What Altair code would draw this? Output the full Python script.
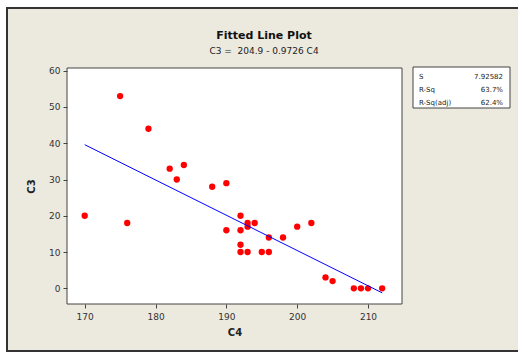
import altair as alt
import pandas as pd

# Data
c4 = [170, 175, 176, 179, 182, 183, 184, 188, 190, 190, 192, 192, 192, 192, 193,
      193, 193, 194, 195, 196, 196, 198, 200, 202, 204, 205, 208, 209, 210, 212]
c3 = [20, 53, 18, 44, 33, 30, 34, 28, 29, 16, 20, 16, 12, 10, 18,
      17, 10, 18, 10, 14, 10, 14, 17, 18, 3, 2, 0, 0, 0, 0]
x_ticks = [170, 180, 190, 200, 210]
y_ticks = [0, 10, 20, 30, 40, 50, 60]
stat_labels = ["S", "R-Sq", "R-Sq(adj)"]
stat_values = ["7.92582", "63.7%", "62.4%"]
title_text = "Fitted Line Plot"
subtitle_text = "C3 = \u00a0204.9 - 0.9726 C4"

df = pd.DataFrame({"C4": c4, "C3": c3})
one = pd.DataFrame({"k": [0]})

W, H = 335, 236
BG = "#ECE9DF"
FONT = "DejaVu Sans"

xs = alt.Scale(domain=[167.5, 214.8], nice=False, zero=False)
ys = alt.Scale(domain=[-4.33, 60.75], nice=False, zero=False)

# Decorative outer frame (beige panel with dark border)
frame = alt.Chart(one).mark_rect(fill=BG, stroke="#333333", strokeWidth=2).encode(
    x=alt.value(-60), x2=alt.value(460), y=alt.value(-60), y2=alt.value(283)
)
# White plotting region with border
plotbg = alt.Chart(one).mark_rect(fill="white", stroke="#444444", strokeWidth=1).encode(
    x=alt.value(0), x2=alt.value(W), y=alt.value(0), y2=alt.value(H)
)

xaxis = alt.Axis(values=x_ticks, tickCount=20, title="C4", grid=False, zindex=1,
                 domain=False, labelOverlap=False, tickColor="#444444", tickSize=4,
                 labelColor="#333333", labelFontSize=9, labelFont=FONT,
                 labelPadding=4, titleFont=FONT, titleFontSize=10,
                 titleFontWeight="bold", titleColor="#222222", titlePadding=6)
yaxis = alt.Axis(values=y_ticks, tickCount=20, title="C3", grid=False, zindex=1,
                 domain=False, labelOverlap=False, tickColor="#444444", tickSize=4,
                 labelColor="#333333", labelFontSize=9, labelFont=FONT,
                 labelPadding=3, titleFont=FONT, titleFontSize=10,
                 titleFontWeight="bold", titleColor="#222222", titlePadding=12)

points = alt.Chart(df).mark_circle(color="#FF0000", opacity=1, size=40).encode(
    x=alt.X("C4:Q", scale=xs, axis=xaxis),
    y=alt.Y("C3:Q", scale=ys, axis=yaxis),
)

line = alt.Chart(df).transform_regression(
    "C4", "C3", extent=[170, 212]
).mark_line(color="#0000FF", strokeWidth=1).encode(
    x=alt.X("C4:Q", scale=xs, axis=xaxis),
    y=alt.Y("C3:Q", scale=ys, axis=yaxis),
)

statbox = alt.Chart(one).mark_rect(fill="white", stroke="#444444", strokeWidth=1).encode(
    x=alt.value(346), x2=alt.value(443), y=alt.value(-1), y2=alt.value(40)
)
stat_l = alt.Chart(one).mark_text(align="left", baseline="middle", fontSize=7,
                                  font=FONT, color="#222222", lineHeight=13).encode(
    x=alt.value(352), y=alt.value(8.7), text=alt.value(stat_labels)
)
stat_r = alt.Chart(one).mark_text(align="right", baseline="middle", fontSize=7,
                                  font=FONT, color="#222222", lineHeight=13).encode(
    x=alt.value(436), y=alt.value(8.7), text=alt.value(stat_values)
)

title = alt.Chart(one).mark_text(align="center", baseline="middle", fontSize=11,
                                 font=FONT, fontWeight="bold", color="#111111").encode(
    x=alt.value(197), y=alt.value(-32), text=alt.value(title_text)
)
subtitle = alt.Chart(one).mark_text(align="center", baseline="middle", fontSize=9,
                                    font=FONT, color="#222222").encode(
    x=alt.value(197), y=alt.value(-17), text=alt.value(subtitle_text)
)

chart = alt.layer(frame, plotbg, points, line, statbox, stat_l, stat_r,
                  title, subtitle).properties(
    width=W, height=H,
    background="white",
    autosize=alt.AutoSizeParams(type="none"),
    padding={"left": 67, "top": 68, "right": 116, "bottom": 48},
).configure_view(strokeWidth=0)

chart.save("out.html", embed_options={"renderer": "svg", "actions": False})
